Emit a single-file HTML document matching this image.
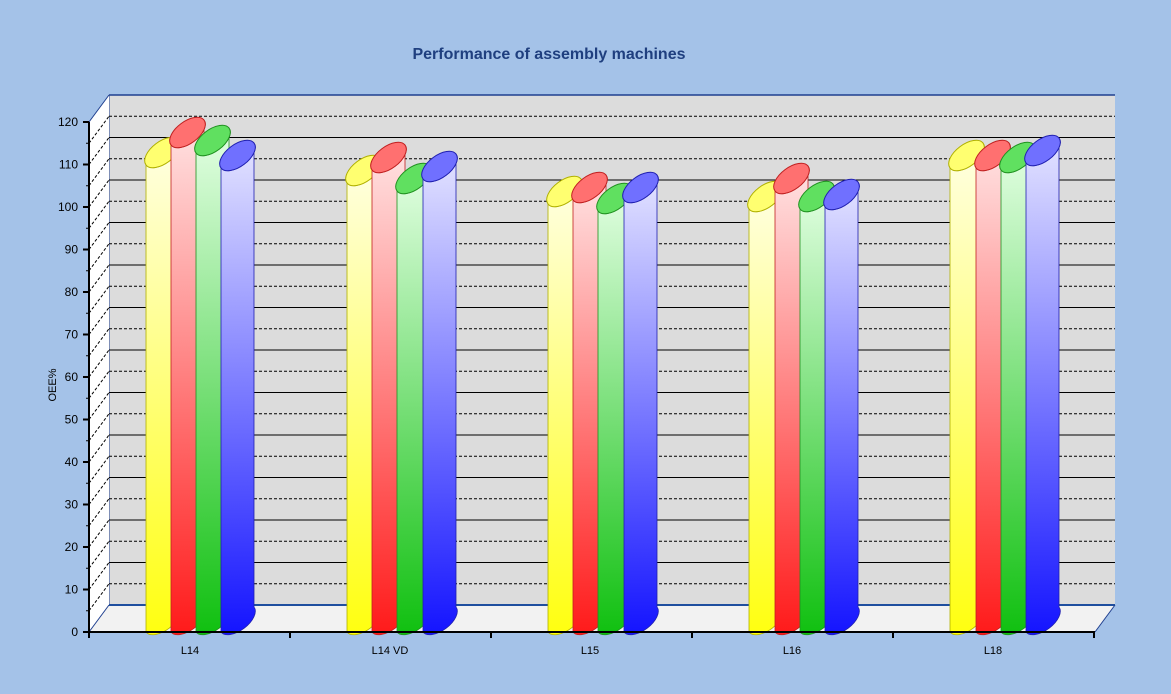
<!DOCTYPE html>
<html><head><meta charset="utf-8"><style>
html,body{margin:0;padding:0;background:#a4c2e8;}
svg{display:block;font-family:"Liberation Sans",sans-serif;}
</style></head><body>
<svg width="1171" height="694" viewBox="0 0 1171 694">
<defs>
<linearGradient id="gy" x1="0" y1="0" x2="0" y2="1"><stop offset="0" stop-color="#ffffe4"/><stop offset="1" stop-color="#ffff10"/></linearGradient>
<linearGradient id="gr" x1="0" y1="0" x2="0" y2="1"><stop offset="0" stop-color="#ffe4e4"/><stop offset="1" stop-color="#ff1a1a"/></linearGradient>
<linearGradient id="gg" x1="0" y1="0" x2="0" y2="1"><stop offset="0" stop-color="#e4ffe4"/><stop offset="1" stop-color="#10c010"/></linearGradient>
<linearGradient id="gb" x1="0" y1="0" x2="0" y2="1"><stop offset="0" stop-color="#e4e4ff"/><stop offset="1" stop-color="#1414ff"/></linearGradient>
</defs>
<text x="549" y="59" text-anchor="middle" font-size="16" font-weight="bold" fill="#1f3f7f">Performance of assembly machines</text>
<rect x="109" y="95" width="1006" height="510" fill="#dcdcdc"/>
<line x1="109" y1="95" x2="1115" y2="95" stroke="#1f3f8f" stroke-width="1.5"/>
<line x1="109" y1="95" x2="109" y2="605" stroke="#1f3f8f"/>
<g id="grid"></g>
<polygon points="89,122 109,95 109,605 89,632" fill="#fff"/>
<line x1="89" y1="122" x2="109" y2="95" stroke="#1f3f8f"/>
<polygon points="89,632 109,605 1115,605 1095,632" fill="#f2f2f2"/>
<line x1="109" y1="605" x2="1115" y2="605" stroke="#1f4f9f" stroke-width="2"/>
<line x1="1115" y1="605" x2="1095" y2="632" stroke="#1f3f8f"/>
<line x1="109" y1="605" x2="89" y2="632" stroke="#1f3f8f"/>
<g id="bars"></g>
<line x1="89" y1="122" x2="89" y2="633" stroke="#000" stroke-width="2"/>
<line x1="88" y1="632" x2="1095" y2="632" stroke="#000" stroke-width="2"/>
<g id="ax" font-size="12" fill="#000"></g>
<text transform="translate(56,385) rotate(-90)" text-anchor="middle" font-size="11">OEE%</text>
</svg>
<script>
var NS="http://www.w3.org/2000/svg";
function el(p,t,a,txt){var e=document.createElementNS(NS,t);for(var k in a)e.setAttribute(k,a[k]);if(txt!=null)e.textContent=txt;p.appendChild(e);return e;}
var g=document.getElementById('grid'),ax=document.getElementById('ax');
for(var i=1;i<=23;i++){var yb=605-i*21.25;var solid=i%2==0;
 el(g,'line',{x1:109,y1:yb,x2:1115,y2:yb,stroke:'#000','stroke-width':1,'stroke-dasharray':solid?'':'3,2'});
}
var lw=document.querySelector('svg');
for(var i=1;i<=23;i++){var yf=632-i*21.25;el(lw,'line',{x1:89,y1:yf,x2:109,y2:yf-27,stroke:'#000','stroke-width':1,'stroke-dasharray':'3,2'});}
for(var i=0;i<=12;i++){var y=632-i*42.5;el(ax,'line',{x1:83,y1:y,x2:89,y2:y,stroke:'#000','stroke-width':2});el(ax,'text',{x:78,y:y+4,'text-anchor':'end'},String(i*10));}
for(var i=0;i<=24;i++){var y=632-i*21.25;if(i%2)el(ax,'line',{x1:86,y1:y,x2:89,y2:y,stroke:'#000','stroke-width':1});}
[89,290,491,692,893,1094].forEach(function(x){el(ax,'line',{x1:x,y1:632,x2:x,y2:638,stroke:'#000','stroke-width':2});});
var cats=[['L14',190],['L14 VD',390],['L15',590],['L16',792],['L18',993]];
cats.forEach(function(c){el(ax,'text',{x:c[1],y:654,'text-anchor':'middle','font-size':11},c[0]);});
var data=[[146,165,171,145,196,153,221,168],[347,183,372,170,397,191,423,179],[548,204,573,200,598,211,624,200],[749,209,775,191,800,209,825,207],[950,168,976,168,1001,170,1026,163]];
var cols=[['url(#gy)','#ffff70','#b0b000'],['url(#gr)','#ff7070','#c02020'],['url(#gg)','#60e060','#209020'],['url(#gb)','#7070ff','#2020b0']];
var b=document.getElementById('bars');
var rx=20.7,ry=11,rot=-37;
data.forEach(function(d){for(var j=0;j<4;j++){var x=d[j*2],y=d[j*2+1],c=cols[j];
 var p='M'+x+','+y+' L'+x+',632 A'+rx+','+ry+' '+rot+' 0 0 '+(x+33)+',607 L'+(x+33)+','+(y-25)+' A'+rx+','+ry+' '+rot+' 0 1 '+x+','+y+' Z';
 el(b,'path',{d:p,fill:c[0],stroke:c[2],'stroke-width':0.8});
 el(b,'ellipse',{cx:x+16.5,cy:y-12.5,rx:rx,ry:ry,transform:'rotate('+rot+' '+(x+16.5)+' '+(y-12.5)+')',fill:c[1],stroke:c[2],'stroke-width':1});
}});
</script>
</body></html>
